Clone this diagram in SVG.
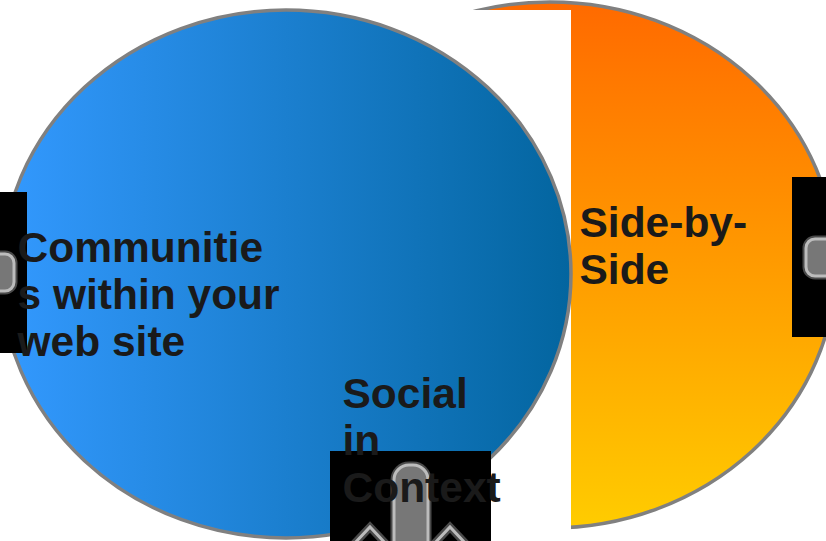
<svg xmlns="http://www.w3.org/2000/svg" width="826" height="541" viewBox="0 0 826 541">
  <defs>
    <linearGradient id="blueGrad" x1="0" y1="0" x2="1" y2="0">
      <stop offset="0" stop-color="#3399ff"/>
      <stop offset="1" stop-color="#03659f"/>
    </linearGradient>
    <linearGradient id="orangeGrad" x1="0" y1="0" x2="0" y2="1">
      <stop offset="0" stop-color="#ff6a00"/>
      <stop offset="1" stop-color="#ffcc00"/>
    </linearGradient>
    <style>
      .ell { stroke: #808080; stroke-width: 3.5; }
      .lbl { font-family: "Liberation Sans", Arial, sans-serif; font-weight: bold; font-size: 42.5px; fill: #1a1a1a; }
      .box { fill: #000000; }
      .iconOuter { fill: #777777; stroke: #4a4a4a; stroke-width: 7; }
      .iconInner { fill: #777777; stroke: #bcbcbc; stroke-width: 3; }
      .chevOuter { fill: none; stroke: #4a4a4a; stroke-width: 8; stroke-linejoin: miter; }
      .chevInner { fill: none; stroke: #bcbcbc; stroke-width: 3; stroke-linejoin: miter; }
    </style>
  </defs>
  <rect width="826" height="541" fill="#ffffff"/>

  <g id="side-by-side">
    <ellipse class="ell" cx="550" cy="265" rx="286" ry="263" fill="url(#orangeGrad)"/>
    <rect x="300" y="10" width="271" height="531" fill="#ffffff"/>
  </g>

  <g id="communities">
    <ellipse class="ell" cx="286" cy="274" rx="285" ry="264" fill="url(#blueGrad)"/>
  </g>

  <g id="widget-left">
    <rect class="box" x="0" y="192" width="27" height="161"/>
    <rect class="iconOuter" x="-22" y="254" width="36" height="37" rx="9"/>
    <rect class="iconInner" x="-22" y="254" width="36" height="37" rx="9"/>
  </g>

  <g id="widget-right">
    <rect class="box" x="792" y="177" width="34" height="160"/>
    <rect class="iconOuter" x="806" y="239" width="40" height="37" rx="9"/>
    <rect class="iconInner" x="806" y="239" width="40" height="37" rx="9"/>
  </g>

  <g id="widget-bottom">
    <rect class="box" x="330" y="451" width="161" height="90"/>
    <rect class="iconOuter" x="394" y="465" width="34" height="95" rx="15"/>
    <rect class="iconInner" x="394" y="465" width="34" height="95" rx="15"/>
    <polyline class="chevOuter" points="353,545 370,527 387,545"/>
    <polyline class="chevInner" points="353,545 370,527 387,545"/>
    <polyline class="chevOuter" points="433,545 450,527 467,545"/>
    <polyline class="chevInner" points="433,545 450,527 467,545"/>
  </g>

  <g id="connectors"/>

  <g id="labels">
    <text class="lbl" x="17.5" y="262">Communitie</text>
    <text class="lbl" x="17.5" y="309">s within your</text>
    <text class="lbl" x="17.5" y="356">web site</text>
    <text class="lbl" x="579.5" y="237">Side-by-</text>
    <text class="lbl" x="579.5" y="284">Side</text>
    <text class="lbl" x="342.5" y="408">Social</text>
    <text class="lbl" x="342.5" y="455">in</text>
    <text class="lbl" x="342.5" y="502">Context</text>
  </g>
</svg>
